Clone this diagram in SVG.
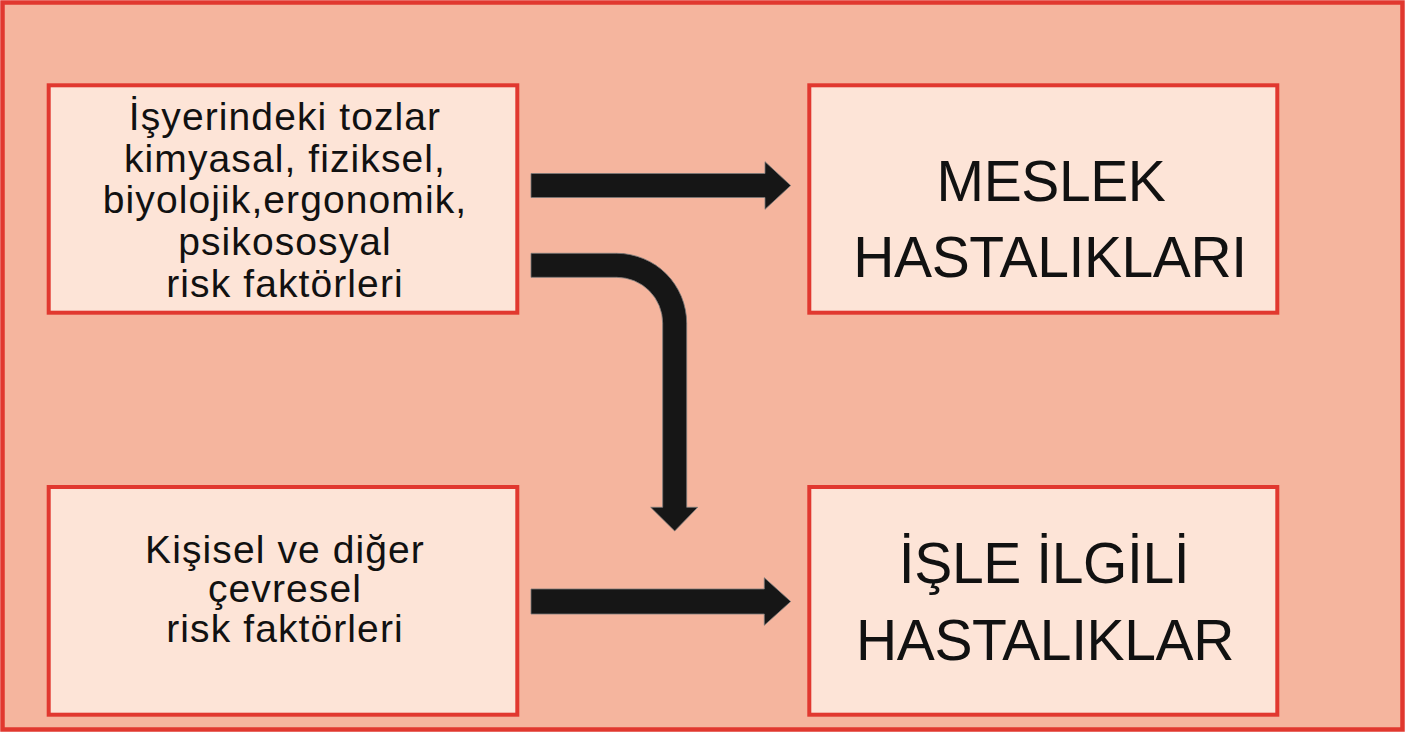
<svg xmlns="http://www.w3.org/2000/svg" width="1408" height="733" viewBox="0 0 1408 733">
<style>
.box{fill:#FDE4D7;stroke:#E1382F;stroke-width:4}
.arrow{fill:#161616;stroke:#7a7a7a;stroke-width:0.8}
.t{font-family:"Liberation Sans",Arial,sans-serif;fill:#111;text-anchor:middle}
.s{font-size:39px;letter-spacing:1.1px}
.b{font-size:57px;letter-spacing:-0.4px}
</style>
<rect x="2.5" y="2.5" width="1400" height="727" fill="#F5B59E" stroke="#E1382F" stroke-width="4.5"/>
<g id="n1">
<rect class="box" x="48.7" y="85.3" width="468.6" height="227.4"/>
<text class="t s" x="285" y="130">İşyerindeki tozlar</text>
<text class="t s" x="285" y="171.7">kimyasal, fiziksel,</text>
<text class="t s" x="285" y="213.4">biyolojik,ergonomik,</text>
<text class="t s" x="285" y="255.1">psikososyal</text>
<text class="t s" x="285" y="296.8">risk faktörleri</text>
</g>
<g id="n2">
<rect class="box" x="809.3" y="85.3" width="468" height="227.4"/>
<text class="t b" x="1051" y="201">MESLEK</text>
<text class="t b" x="1050" y="277">HASTALIKLARI</text>
</g>
<g id="n3">
<rect class="box" x="48.7" y="487" width="468.6" height="227.7"/>
<text class="t s" x="285" y="562.7">Kişisel ve diğer</text>
<text class="t s" x="285" y="602.2">çevresel</text>
<text class="t s" x="285" y="641.7">risk faktörleri</text>
</g>
<g id="n4">
<rect class="box" x="809.3" y="487" width="468" height="227.7"/>
<text class="t b" x="1044" y="583">İŞLE İLGİLİ</text>
<text class="t b" x="1045" y="660">HASTALIKLAR</text>
</g>
<g id="connectors">
<polygon class="arrow" points="531,173.5 765,173.5 765,161.7 790.7,185.5 765,209.3 765,197.5 531,197.5"/>
<path class="arrow" d="M531,253.3 H616.7 A70,70 0 0 1 686.7,323.3 V507.3 H697.7 L674.7,531 L650.7,507.3 H662.7 V323.3 A46,46 0 0 0 616.7,277.3 H531 Z"/>
<polygon class="arrow" points="531,589 764.3,589 764.3,577.7 790.7,601.5 764.3,625.3 764.3,614 531,614"/>
</g>
</svg>
